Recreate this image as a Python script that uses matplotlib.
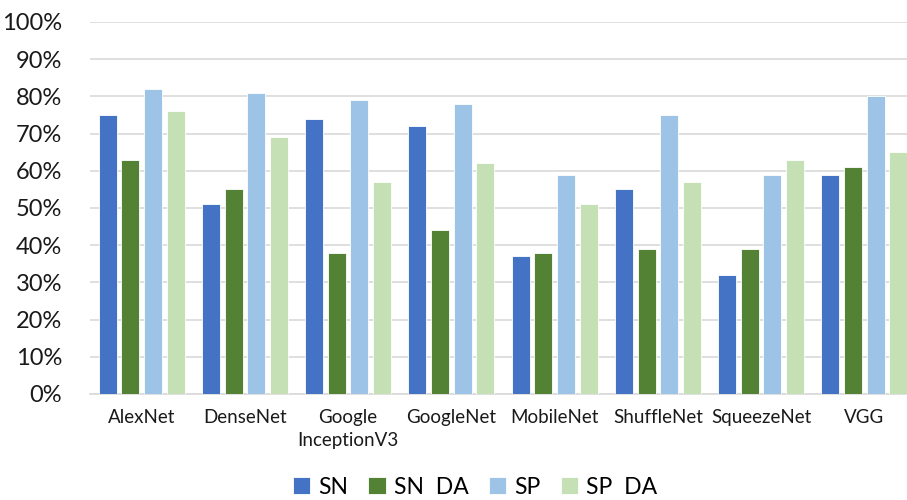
import numpy as np
import matplotlib.pyplot as plt
from matplotlib.ticker import PercentFormatter

models = ["AlexNet", "DenseNet", "Google\nInceptionV3", "GoogleNet",
          "MobileNet", "ShuffleNet", "SqueezeNet", "VGG"]
sn = [75, 51, 74, 72, 37, 55, 32, 59]
sn_da = [63, 55, 38, 44, 38, 39, 39, 61]
sp = [82, 81, 79, 78, 59, 75, 59, 80]
sp_da = [76, 69, 57, 62, 51, 57, 63, 65]

series = [
    ("SN", sn, "#4472C4"),
    ("SN  DA", sn_da, "#548235"),
    ("SP", sp, "#9DC3E6"),
    ("SP  DA", sp_da, "#C5E0B4"),
]

plt.rcParams["font.family"] = ["Lato", "DejaVu Sans"]

fig = plt.figure(figsize=(9.07, 5.0), dpi=100)
ax = fig.add_axes([90 / 907, 106 / 500, 826 / 907, 372 / 500])

x = np.arange(len(models))
pitch = 0.219
width = 0.175
for i, (label, vals, color) in enumerate(series):
    ax.bar(x + (i - 1.5) * pitch, vals, width, color=color, label=label,
           edgecolor="white", linewidth=0.6, zorder=3)

ax.set_xlim(-0.5, len(models) - 0.5)
ax.set_ylim(0, 100)
ax.set_yticks(np.arange(0, 101, 10))
ax.yaxis.set_major_formatter(PercentFormatter(decimals=0))
ax.set_xticks(x)
ax.set_xticklabels(models, fontsize=13.5, color="#1a1a1a", linespacing=1.4)
ax.tick_params(axis="y", labelsize=17, colors="#1a1a1a", length=0, pad=20)
ax.tick_params(axis="x", length=0, pad=11)

ax.grid(axis="y", color="#d9d9d9", linewidth=1.2, zorder=0)
for side in ("top", "right", "left"):
    ax.spines[side].set_visible(False)
ax.spines["bottom"].set_color("#d9d9d9")
ax.spines["bottom"].set_linewidth(1.2)

fig.legend(loc="center", bbox_to_anchor=(475 / 907, 1 - 487 / 500), ncol=4,
           frameon=False, fontsize=16.5, handlelength=0.75, handleheight=0.75,
           handletextpad=0.35, columnspacing=0.9)

fig.savefig("out.png", dpi=100)
